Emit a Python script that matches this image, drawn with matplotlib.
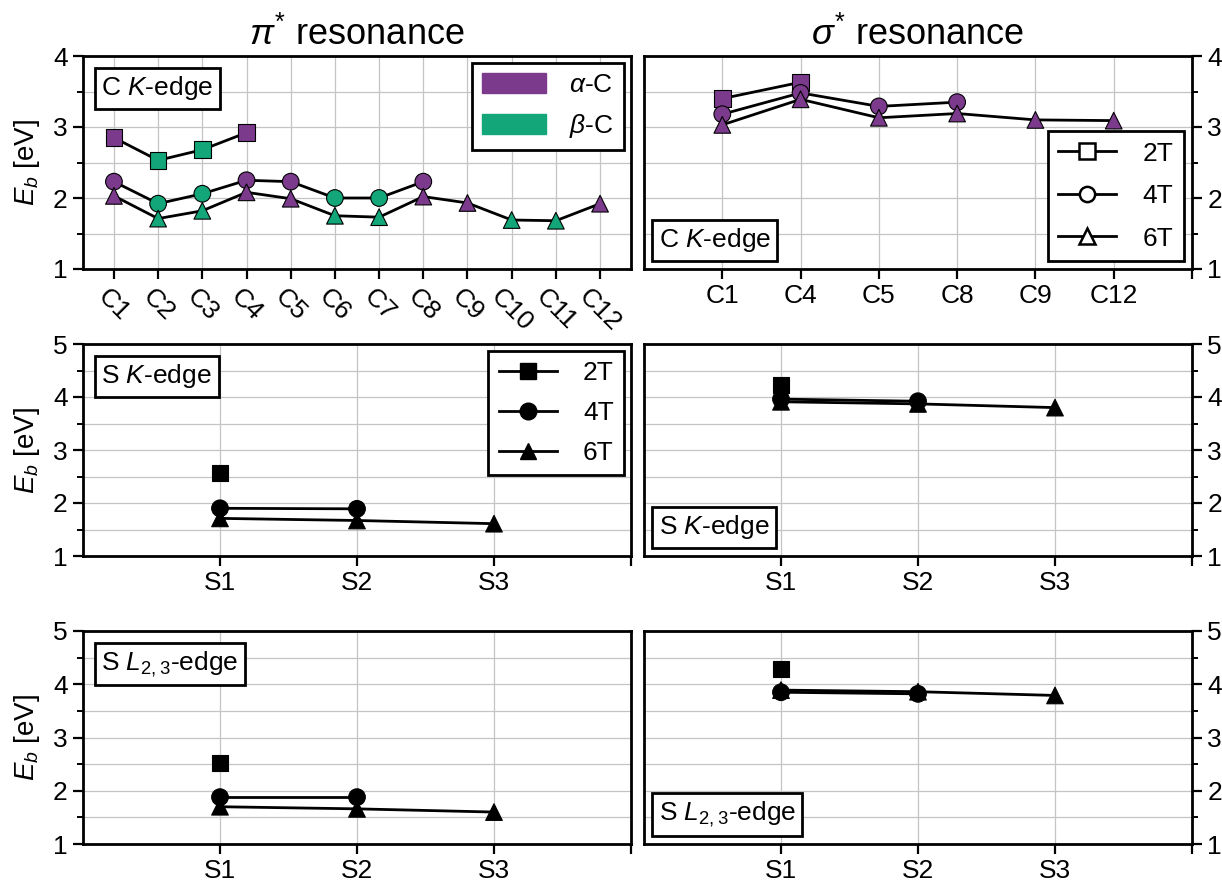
import matplotlib
matplotlib.use('Agg')
import matplotlib.pyplot as plt
from matplotlib.lines import Line2D
from matplotlib.patches import Patch
from matplotlib.offsetbox import AnchoredText
from matplotlib.ticker import MultipleLocator

plt.rcParams.update({
    'font.family': ['Liberation Sans', 'DejaVu Sans'],
    'mathtext.fontset': 'custom',
    'mathtext.rm': 'Liberation Sans',
    'mathtext.it': 'Liberation Sans:italic',
    'mathtext.bf': 'Liberation Sans:bold',
    'font.size': 19,
})

PURPLE = '#7b3a8c'
GREEN = '#12a679'

# ---------------- data ----------------
c_pi_sites = ['C1', 'C2', 'C3', 'C4', 'C5', 'C6', 'C7', 'C8', 'C9', 'C10', 'C11', 'C12']
c_site_type = ['a', 'b', 'b', 'a', 'a', 'b', 'b', 'a', 'a', 'b', 'b', 'a']
c_pi_2T = [2.85, 2.53, 2.68, 2.92]
c_pi_4T = [2.23, 1.92, 2.06, 2.25, 2.23, 2.00, 2.00, 2.23]
c_pi_6T = [2.03, 1.71, 1.82, 2.08, 1.99, 1.75, 1.73, 2.02, 1.93, 1.69, 1.68, 1.92]

c_sig_sites = ['C1', 'C4', 'C5', 'C8', 'C9', 'C12']
c_sig_2T = [3.40, 3.63]
c_sig_4T = [3.18, 3.48, 3.29, 3.35]
c_sig_6T = [3.03, 3.39, 3.13, 3.19, 3.10, 3.09]

s_sites = ['S1', 'S2', 'S3']
sK_pi_2T = [2.56]
sK_pi_4T = [1.90, 1.89]
sK_pi_6T = [1.71, 1.67, 1.61]
sK_sig_2T = [4.22]
sK_sig_4T = [3.96, 3.92]
sK_sig_6T = [3.91, 3.87, 3.80]
sL_pi_2T = [2.52]
sL_pi_4T = [1.88, 1.88]
sL_pi_6T = [1.70, 1.66, 1.60]
sL_sig_2T = [4.28]
sL_sig_4T = [3.85, 3.82]
sL_sig_6T = [3.89, 3.86, 3.79]

series_labels = ['2T', '4T', '6T']
series_markers = ['s', 'o', '^']
type_colors = {'a': PURPLE, 'b': GREEN}

# ---------------- figure ----------------
W, H = 1222, 881
fig = plt.figure(figsize=(W / 100, H / 100), dpi=100)


def mk_ax(x0, y0, x1, y1):
    return fig.add_axes([x0 / W, 1 - y1 / H, (x1 - x0) / W, (y1 - y0) / H])


cols = [(83, 631), (644, 1192)]
rows = [(56, 269), (344, 556), (631, 844)]
axes = [[mk_ax(cols[c][0], rows[r][0], cols[c][1], rows[r][1]) for c in range(2)] for r in range(3)]

MS = 12
LW = 2.0


def style(ax, ylim, right=False):
    ax.set_ylim(*ylim)
    ax.yaxis.set_major_locator(MultipleLocator(1))
    ax.yaxis.set_minor_locator(MultipleLocator(0.5))
    ax.grid(True, which='both', axis='y', color='#c4c4c4', lw=0.9)
    ax.grid(True, which='major', axis='x', color='#c4c4c4', lw=0.9)
    ax.set_axisbelow(True)
    for sp in ax.spines.values():
        sp.set_linewidth(2.0)
    ax.tick_params(which='major', direction='out', length=7, width=1.6, labelsize=19, pad=4)
    ax.tick_params(which='minor', direction='out', length=4, width=1.4)
    if right:
        ax.yaxis.tick_right()
        ax.tick_params(axis='y', which='both', left=False, right=True)


def draw(ax, y, marker, colors):
    x = list(range(len(y)))
    if len(y) > 1:
        ax.plot(x, y, color='k', lw=LW, zorder=2)
    ax.scatter(x, y, marker=marker, s=MS ** 2, c=colors, edgecolors='k',
               linewidths=0.8, zorder=3)


def label_box(ax, txt, loc, borderpad=0.45):
    at = AnchoredText(txt, loc=loc, prop=dict(size=19), frameon=True,
                      pad=0.25, borderpad=borderpad)
    at.patch.set_boxstyle('square,pad=0')
    at.patch.set_linewidth(2.0)
    at.patch.set_edgecolor('k')
    at.set_zorder(5)
    ax.add_artist(at)


def finish_legend(leg):
    leg.get_frame().set_linewidth(2.0)
    leg.set_zorder(6)


# ---- top-left: pi*, C K-edge
ax = axes[0][0]
style(ax, (1, 4))
cpi_colors = [type_colors[t] for t in c_site_type]
for ys, m in zip([c_pi_2T, c_pi_4T, c_pi_6T], series_markers):
    draw(ax, ys, m, cpi_colors[:len(ys)])
ax.set_xlim(-0.7, len(c_pi_sites) - 0.3)
ax.set_xticks(range(len(c_pi_sites)))
ax.set_xticklabels(c_pi_sites, rotation=-45, ha='center', va='top')
ax.set_yticks([1, 2, 3, 4])
ax.set_ylabel('$E_b$ [eV]', fontsize=20, labelpad=8)
ax.set_title(r'$\pi^{*}$ resonance', fontsize=26, pad=8)
label_box(ax, 'C $K$-edge', 'upper left')
leg = ax.legend(handles=[Patch(facecolor=PURPLE, edgecolor=PURPLE, label=r'$\alpha$-C'),
                         Patch(facecolor=GREEN, edgecolor=GREEN, label=r'$\beta$-C')],
                loc='upper right', fontsize=19, fancybox=False, framealpha=1,
                edgecolor='k', handlelength=2.4, handleheight=0.8,
                handletextpad=0.9, borderaxespad=0.25, labelspacing=0.55)
finish_legend(leg)

# ---- top-right: sigma*, C K-edge
ax = axes[0][1]
style(ax, (1, 4), right=True)
sig_colors = [type_colors[c_site_type[c_pi_sites.index(s)]] for s in c_sig_sites]
for ys, m in zip([c_sig_2T, c_sig_4T, c_sig_6T], series_markers):
    draw(ax, ys, m, sig_colors[:len(ys)])
ax.set_xlim(-1, len(c_sig_sites))
ax.set_xticks(list(range(len(c_sig_sites))) + [len(c_sig_sites)])
ax.set_xticklabels(c_sig_sites + [''])
ax.set_yticks([1, 2, 3, 4])
ax.set_title(r'$\sigma^{*}$ resonance', fontsize=26, pad=8)
label_box(ax, 'C $K$-edge', 'lower left', borderpad=0.3)
handles = [Line2D([], [], color='k', lw=LW, marker=m, markersize=11,
                  markerfacecolor='white', markeredgecolor='k', markeredgewidth=1.8, label=l)
           for m, l in zip(series_markers, series_labels)]
leg = ax.legend(handles=handles, loc='lower right', fontsize=19, fancybox=False,
                framealpha=1, edgecolor='k', handlelength=2.2, handletextpad=1.0,
                borderaxespad=0.3, labelspacing=0.7)
finish_legend(leg)

# ---- S panels
s_data = [
    (axes[1][0], [sK_pi_2T, sK_pi_4T, sK_pi_6T], 'S $K$-edge', 'upper left', False),
    (axes[1][1], [sK_sig_2T, sK_sig_4T, sK_sig_6T], 'S $K$-edge', 'lower left', True),
    (axes[2][0], [sL_pi_2T, sL_pi_4T, sL_pi_6T], 'S $L_{2,3}$-edge', 'upper left', False),
    (axes[2][1], [sL_sig_2T, sL_sig_4T, sL_sig_6T], 'S $L_{2,3}$-edge', 'lower left', True),
]
for ax, sets, txt, loc, right in s_data:
    style(ax, (1, 5), right=right)
    for ys, m in zip(sets, series_markers):
        draw(ax, ys, m, ['k'] * len(ys))
    ax.set_xlim(-1, len(s_sites))
    ax.set_xticks(list(range(len(s_sites))) + [len(s_sites)])
    ax.set_xticklabels(s_sites + [''])
    ax.set_yticks([1, 2, 3, 4, 5])
    label_box(ax, txt, loc, borderpad=0.45 if loc == 'upper left' else 0.3)
    if not right:
        ax.set_ylabel('$E_b$ [eV]', fontsize=20, labelpad=8)

ax = axes[1][0]
handles = [Line2D([], [], color='k', lw=LW, marker=m, markersize=12,
                  markerfacecolor='k', markeredgecolor='k', label=l)
           for m, l in zip(series_markers, series_labels)]
leg = ax.legend(handles=handles, loc='upper right', fontsize=19, fancybox=False,
                framealpha=1, edgecolor='k', handlelength=2.2, handletextpad=1.0,
                borderaxespad=0.25, labelspacing=0.6)
finish_legend(leg)

fig.savefig('out.png', dpi=100)
